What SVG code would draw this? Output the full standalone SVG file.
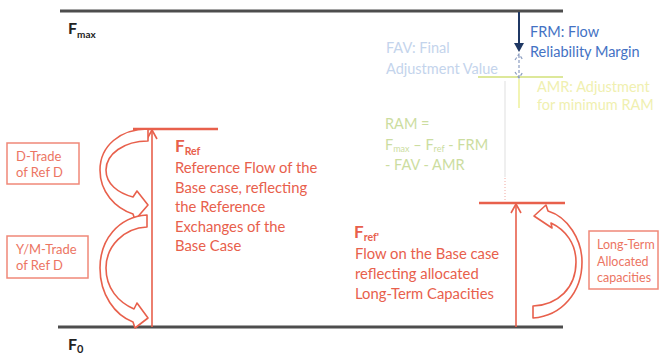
<svg xmlns="http://www.w3.org/2000/svg" width="662" height="355" viewBox="0 0 662 355">
<defs>
<style>
.t{font-family:Lato,"Open Sans","Liberation Sans",sans-serif}
.red{fill:#E8604C}
.lred{fill:#EC7563}
.bold{font-weight:bold}
.lvl{stroke:#4D4D4D;stroke-width:3}
.rl{stroke:#E8604C;stroke-width:2.5}
.ra{stroke:#E8604C;stroke-width:1.6;fill:none}
.box{fill:#fff;stroke:#F08878;stroke-width:1.5}
.curv{fill:#fff;stroke:#E8604C;stroke-width:1.6;stroke-linejoin:round}
</style>
</defs>
<rect width="662" height="355" fill="#fff"/>

<g id="levels">
<line class="lvl" x1="60" y1="11" x2="563" y2="11"/>
<line class="lvl" x1="58" y1="327" x2="563" y2="327"/>
<text class="t bold" x="68" y="34" font-size="16" fill="#222">F<tspan font-size="10" dy="4">max</tspan></text>
<text class="t bold" x="68" y="350" font-size="16" fill="#222">F<tspan font-size="11" dy="3">0</tspan></text>
</g>

<g id="fref">
<line class="rl" x1="133" y1="129" x2="218" y2="129"/>
<text class="t bold red" x="175" y="152" font-size="17">F<tspan font-size="10.5" dy="3">Ref</tspan></text>
<text class="t red" font-size="14.8">
<tspan x="175" y="173">Reference Flow of the</tspan>
<tspan x="175" y="193">Base case, reflecting</tspan>
<tspan x="175" y="212">the Reference</tspan>
<tspan x="175" y="232">Exchanges of the</tspan>
<tspan x="175" y="251">Base Case</tspan>
</text>
</g>

<g id="dtrade">
<rect class="box" x="7" y="143" width="72" height="41"/>
<text class="t lred" font-size="13"><tspan x="16" y="161">D-Trade</tspan><tspan x="16" y="177">of Ref D</tspan></text>
</g>

<g id="ymtrade">
<rect class="box" x="7" y="236" width="81" height="42"/>
<text class="t lred" font-size="13"><tspan x="16" y="254">Y/M-Trade</tspan><tspan x="16" y="270">of Ref D</tspan></text>
</g>

<g id="frefp">
<line class="rl" x1="479" y1="203" x2="565" y2="203"/>
<text class="t bold red" x="354" y="238" font-size="17">F<tspan font-size="10.5" dy="3">ref'</tspan></text>
<text class="t red" font-size="14.8">
<tspan x="355" y="259">Flow on the Base case</tspan>
<tspan x="355" y="279">reflecting allocated</tspan>
<tspan x="355" y="299">Long-Term Capacities</tspan>
</text>
</g>

<g id="longterm">
<rect class="box" x="589" y="231" width="69" height="58"/>
<text class="t lred" font-size="12.5"><tspan x="597" y="249">Long-Term</tspan><tspan x="597" y="266">Allocated</tspan><tspan x="597" y="282">capacities</tspan></text>
</g>

<g id="frm">
<text class="t" font-size="14.5" fill="#4472C4"><tspan x="530" y="37">FRM: Flow</tspan><tspan x="530" y="57">Reliability Margin</tspan></text>
</g>

<g id="fav">
<text class="t" font-size="14.5" fill="#C4D4EC"><tspan x="386" y="53">FAV: Final</tspan><tspan x="386" y="74">Adjustment Value</tspan></text>
</g>

<g id="amr">
<line x1="478" y1="77" x2="563" y2="77" stroke="#DDE89A" stroke-width="2"/>
<line x1="519" y1="79" x2="519" y2="108" stroke="#EEF09A" stroke-width="1.5"/>
<text class="t" font-size="14.5" fill="#F0F0B0"><tspan x="537" y="92">AMR: Adjustment</tspan><tspan x="537" y="110">for minimum RAM</tspan></text>
</g>

<g id="ram">
<text class="t" font-size="14.5" fill="#CCDDA0"><tspan x="385" y="129">RAM =</tspan><tspan x="385" y="150">F<tspan font-size="9" dy="2">max</tspan><tspan dy="-2"> – F</tspan><tspan font-size="9" dy="2">ref</tspan><tspan dy="-2"> - FRM</tspan></tspan><tspan x="385" y="170">- FAV - AMR</tspan></text>
</g>

<g id="connectors">
<line class="ra" x1="152" y1="327" x2="152" y2="130"/>
<polyline class="ra" points="147,139 152,130 157,139"/>
<line class="ra" x1="516" y1="327" x2="516" y2="204"/>
<polyline class="ra" points="511,213 516,204 521,213"/>
<path class="curv" d="M148,129 C120,129 100,146 100,170 C100,192 115,208 133,214 L135,220 L148,205 L137,191 L133,197 C118,193 106,184 106,170 C106,154 124,141 148,141 Z"/>
<path class="curv" d="M147,215 C118,217 100,240 100,268 C100,295 115,315 133,322 L135,328 L148,318 L137,303 L134,309 C118,302 106,288 106,268 C106,246 124,228 147,227 Z"/>
<path class="curv" d="M533,318 C562,316 582,292 582,262 C582,240 568,217 548,211 L546,205 L534,216 L552,228 L551,223 C566,230 576,244 576,262 C576,288 558,305 533,306 Z"/>
<line x1="519" y1="12" x2="519" y2="46" stroke="#1F3864" stroke-width="2"/>
<polygon points="514,43 524,43 519,52" fill="#1F3864"/>
<line x1="519" y1="55" x2="519" y2="78" stroke="#8A9CC0" stroke-width="1.2" stroke-dasharray="3,2"/>
<polyline points="515,60 519,54 523,60" fill="none" stroke="#8A9CC0" stroke-width="1.2" stroke-dasharray="3,2"/>
<polyline points="515,72 519,78 523,72" fill="none" stroke="#8A9CC0" stroke-width="1.2" stroke-dasharray="3,2"/>
<line x1="505" y1="81" x2="505" y2="177" stroke="#E4E4E4" stroke-width="1.2"/>
<line x1="505" y1="178" x2="505" y2="202" stroke="#F0A8A0" stroke-width="1" stroke-dasharray="1,2"/>
</g>
</svg>
